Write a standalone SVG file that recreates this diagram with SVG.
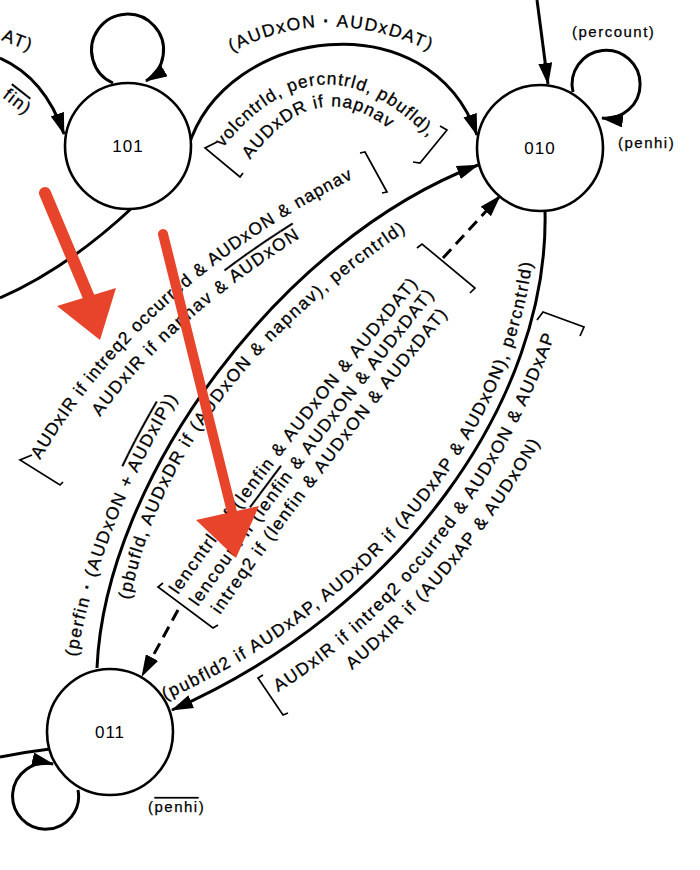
<svg xmlns="http://www.w3.org/2000/svg" width="700" height="870" viewBox="0 0 700 870">
<style>
.node circle{fill:#fff;stroke:#000;stroke-width:2.6}
.nl{font-family:"Liberation Sans",Arial,sans-serif;font-size:17px;fill:#000;text-anchor:middle;letter-spacing:1px}
.e{fill:none;stroke:#000;stroke-width:3}
.d{fill:none;stroke:#000;stroke-width:3;stroke-dasharray:12 7}
.br{fill:none;stroke:#000;stroke-width:1.7}
.t{font-family:"Liberation Sans",Arial,sans-serif;font-size:17.5px;fill:#000;stroke:#000;stroke-width:0.3px;letter-spacing:1.6px}
.s{font-family:"Liberation Sans",Arial,sans-serif;font-size:15px;fill:#000;stroke:#000;stroke-width:0.25px;letter-spacing:1.5px}
.ov{text-decoration:overline}
.tight{letter-spacing:1.1px}
.red{fill:#e8432b}
.rs{stroke:#e8432b;stroke-linecap:round;fill:none}
</style>
<defs>
<marker id="ah" markerUnits="userSpaceOnUse" markerWidth="22" markerHeight="14" refX="21" refY="7" orient="auto"><path d="M0,0 L22,7 L0,14 z" fill="#000"/></marker>
<path id="pA1" d="M232,52 Q338,-4 455,64 L507,94"/>
<path id="pA2" d="M223,148 Q325,20 440,150 L470,187"/>
<path id="pA3" d="M250,160 Q325,58 412,150 L440,183"/>
<path id="pB1" d="M40,460 Q145,280 370,170 L425,143"/>
<path id="pB2" d="M100,417 Q170,320 300,238 L350,207"/>
<path id="pB3" d="M77,657 Q100,520 190,378 L220,330"/>
<path id="pB4" d="M130,600 Q172,385 415,225 L465,195"/>
<path id="pC1" d="M165,700 C390,600 540,400 535,205 L534,150"/>
<path id="pC2" d="M278,692 C380,630 500,500 558,325 L575,270"/>
<path id="pC3" d="M352,670 Q470,570 552,422 L580,370"/>
<path id="pM1" d="M178,595 Q280,450 428,272 L460,232"/>
<path id="pM2" d="M198,607 Q300,462 445,282 L477,242"/>
<path id="pM3" d="M220,615 Q320,470 458,302 L490,262"/>
</defs>
<rect width="700" height="870" fill="#fff"/>

<g id="connectors">
  <path class="e" d="M0,58 Q45,78 64,134" marker-end="url(#ah)"/>
  <path class="e" d="M188,148 C225,25 430,0 477,135" marker-end="url(#ah)"/>
  <path class="e" d="M537,0 L548,84" marker-end="url(#ah)"/>
  <path class="e" d="M133,207 Q68,268 0,298"/>
  <path class="e" d="M97,668 C105,480 280,240 478,165" marker-end="url(#ah)"/>
  <path class="e" d="M545,210 C550,400 400,610 172,710" marker-end="url(#ah)"/>
  <path class="d" d="M443,258 L500,196" marker-end="url(#ah)"/>
  <path class="d" d="M178,610 L142,676" marker-end="url(#ah)"/>
  <path class="e" d="M0,757 Q25,752 50,749"/>
  <path class="e" d="M113,83 A36,36 0 1 1 146,81" marker-end="url(#ah)"/>
  <path class="e" d="M573,92 A34,34 0 1 1 602,118" marker-end="url(#ah)"/>
  <path class="e" d="M78,790 A33,33 0 1 1 53,764" marker-end="url(#ah)"/>
</g>

<g id="n101" class="node"><circle cx="128" cy="146" r="63"/><text class="nl" x="128" y="152">101</text></g>
<g id="n010" class="node"><circle cx="540" cy="148" r="63"/><text class="nl" x="540" y="154">010</text></g>
<g id="n011" class="node"><circle cx="110" cy="732" r="63"/><text class="nl" x="110" y="738">011</text></g>

<g id="brackets">
  <polyline class="br" points="217,142 205,148 240,177 243,173"/>
  <polyline class="br" points="440,126 447,130 420,163 413,162"/>
  <polyline class="br" points="32,455 20,460 60,485 63,482"/>
  <polyline class="br" points="360,153 365,152 387,192 382,193"/>
  <polyline class="br" points="163,583 158,587 213,628 218,625"/>
  <polyline class="br" points="417,248 422,244 475,288 470,293"/>
  <polyline class="br" points="263,675 258,678 283,715 288,713"/>
  <polyline class="br" points="537,320 543,312 584,327 580,336"/>
</g>

<g id="labels">
  <text class="t" transform="translate(1,40) rotate(21)">AT)</text>
  <text class="t" transform="translate(2,97) rotate(38)"><tspan class="ov">fin</tspan>)</text>
  <text class="t"><textPath href="#pA1">(AUDxON <tspan font-weight="bold">·</tspan> AUDxDAT)</textPath></text>
  <text class="t tight"><textPath href="#pA2">volcntrld, percntrld, pbufld),</textPath></text>
  <text class="t tight"><textPath href="#pA3">AUDxDR if napnav</textPath></text>
  <text class="t tight"><textPath href="#pB1">AUDxIR if intreq2 occurred &amp; AUDxON &amp; napnav</textPath></text>
  <text class="t"><textPath href="#pB2">AUDxIR if napnav &amp; <tspan class="ov">AUDxON</tspan></textPath></text>
  <text class="t"><textPath href="#pB3">(perfin <tspan font-weight="bold">·</tspan> (AUDxON + <tspan class="ov">AUDxIP</tspan>))</textPath></text>
  <text class="t"><textPath href="#pB4">(pbufld, AUDxDR if (AUDxON &amp; napnav), percntrld)</textPath></text>
  <text class="t"><textPath href="#pC1">(pubfld2 if AUDxAP, AUDxDR if (AUDxAP &amp; AUDxON), percntrld)</textPath></text>
  <text class="t"><textPath href="#pC2">AUDxIR if intreq2 occurred &amp; AUDxON &amp; AUDxAP</textPath></text>
  <text class="t"><textPath href="#pC3">AUDxIR if (AUDxAP &amp; AUDxON)</textPath></text>
  <text class="t"><textPath href="#pM1">lencntrld if (lenfin &amp; AUDxON &amp; AUDxDAT)</textPath></text>
  <text class="t"><textPath href="#pM2">lencount if (<tspan class="ov">lenfin</tspan> &amp; AUDxON &amp; AUDxDAT)</textPath></text>
  <text class="t"><textPath href="#pM3">intreq2 if (lenfin &amp; AUDxON &amp; AUDxDAT)</textPath></text>
  <text class="s" x="572" y="37">(percount)</text>
  <text class="s" x="618" y="148">(penhi)</text>
  <text class="s" x="148" y="812">(<tspan class="ov">penhi</tspan>)</text>
</g>

<g id="annotations">
  <path class="rs" d="M45,193 L90,300" stroke-width="12"/>
  <polygon class="red" points="57,306 116,288 100,340"/>
  <path class="rs" d="M163,234 L232,512" stroke-width="10"/>
  <polygon class="red" points="196,520 259,506 236,558"/>
</g>
</svg>
